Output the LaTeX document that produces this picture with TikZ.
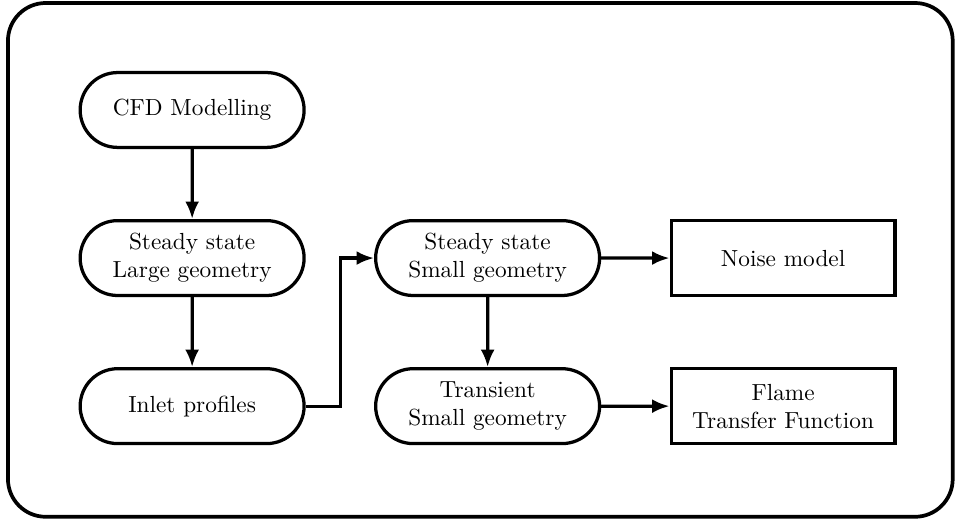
\documentclass[tikz,border=0pt]{standalone}
\usepackage{tikz}
\usetikzlibrary{shapes.misc, arrows.meta, positioning}

\tikzset{
	stadium/.style = {rounded rectangle, draw, line width = 1.4pt, minimum width = 3.38cm, minimum height = 1.13cm, align = center, inner sep = 0pt},
	result/.style = {rectangle, draw, line width = 1.4pt, minimum width = 3.38cm, minimum height = 1.13cm, align = center, inner sep = 0pt},
	flow/.style = {line width = 1.4pt, -{Latex[length=7.5pt, width=6pt]}}
}

\begin{document}
\begin{tikzpicture}
			\def\dx{4.46};
			\def\dy{2.235};

			\useasboundingbox (0,0) rectangle (14.49,-7.894);

			% outer frame
			\draw[line width = 1.6pt, rounded corners = 0.57cm] (0.12,-0.045) rectangle (14.38,-7.80);

			\node[stadium] (cfd) at (2.90,-1.66) {CFD Modelling};
			\node[stadium] (ssLarge) at (2.90,-1.66-\dy) {Steady state\\Large geometry};
			\node[stadium] (inlet) at (2.90,-1.66-2*\dy) {Inlet profiles};

			\node[stadium] (ssSmall) at (2.90+\dx,-1.66-\dy) {Steady state\\Small geometry};
			\node[stadium] (transient) at (2.90+\dx,-1.66-2*\dy) {Transient\\Small geometry};

			\node[result] (noise) at (11.82,-1.66-\dy) {Noise model};
			\node[result] (ftf) at (11.82,-1.66-2*\dy) {Flame\\Transfer Function};

			\draw[flow] (cfd) -- (ssLarge);
			\draw[flow] (ssLarge) -- (inlet);
			\draw[flow] (inlet.east) -- ++(0.53,0) |- (ssSmall.west);
			\draw[flow] (ssSmall) -- (transient);
			\draw[flow] (ssSmall) -- (noise);
			\draw[flow] (transient) -- (ftf);
		\end{tikzpicture}
\end{document}
